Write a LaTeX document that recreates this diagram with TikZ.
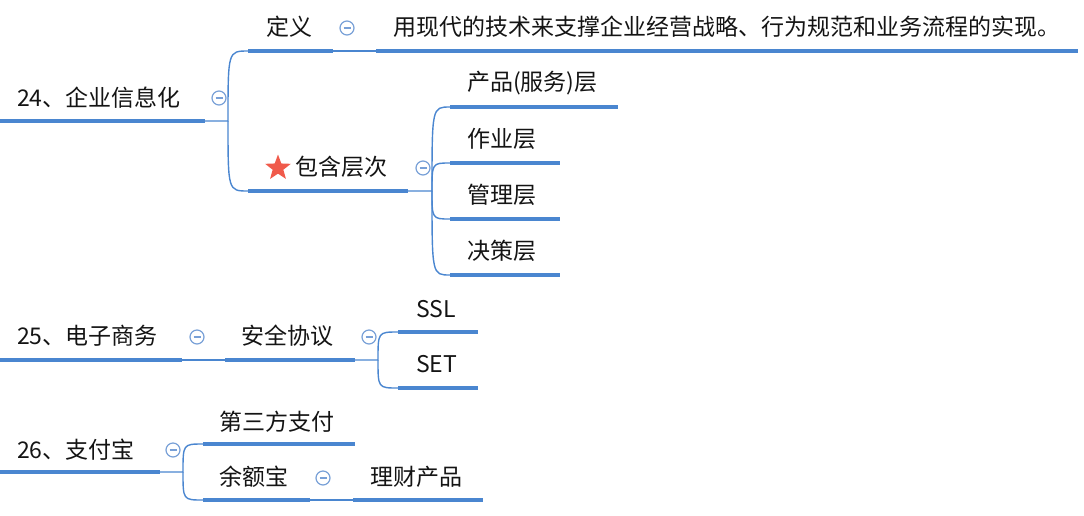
\documentclass[tikz,border=0pt]{standalone}
\usepackage{fontspec}
\setmainfont{Noto Sans CJK SC}
\usetikzlibrary{shapes.geometric,calc}
\definecolor{lineblue}{RGB}{74,134,208}
\definecolor{btnblue}{RGB}{120,160,215}
\definecolor{txt}{RGB}{20,20,20}
\definecolor{starred}{RGB}{240,90,75}
\tikzset{
  topic/.style={anchor=west,inner sep=0pt,text=txt,font=\fontsize{23}{27}\selectfont},
  uline/.style={draw=lineblue,line width=3.2pt},
  conn/.style={draw=lineblue,line width=1.4pt},
  btn/.style={circle,draw=btnblue,line width=1.2pt,minimum size=14pt,inner sep=0pt,fill=white,
    path picture={\draw[btnblue,line width=1.3pt]([xshift=-3.5pt]path picture bounding box.center)--([xshift=3.5pt]path picture bounding box.center);}},
  starmark/.style={star,star points=5,star point ratio=2.4,fill=starred,minimum size=27pt,inner sep=0pt}
}
\begin{document}
\begin{tikzpicture}[x=1pt,y=-1pt]
\useasboundingbox (0,0) rectangle (1084,515);
% ---------- 24 ----------
\node[topic] (t24) at (17,98) {24、企业信息化};
\coordinate (u24a) at (0,121); \coordinate (u24b) at (205,121);
\coordinate (j24) at (228,121);
\node[topic] (tdef) at (266,27) {定义};
\coordinate (udefa) at (248,51); \coordinate (udefb) at (333,51);
\node[topic] (tdt) at (393,27) {用现代的技术来支撑企业经营战略、行为规范和业务流程的实现。};
\coordinate (udta) at (376,51); \coordinate (udtb) at (1078,51);
\node[starmark] (star) at (278,168) {};
\node[topic] (tbh) at (295,167) {包含层次};
\coordinate (ubha) at (248,191); \coordinate (ubhb) at (408,191);
\coordinate (jbh) at (432,191);
\node[topic] (tp1) at (467,83) {产品(服务)层};
\coordinate (up1a) at (450,107); \coordinate (up1b) at (618,107);
\node[topic] (tp2) at (467,139) {作业层};
\coordinate (up2a) at (450,163); \coordinate (up2b) at (560,163);
\node[topic] (tp3) at (467,195) {管理层};
\coordinate (up3a) at (450,219); \coordinate (up3b) at (560,219);
\node[topic] (tp4) at (467,251) {决策层};
\coordinate (up4a) at (450,275); \coordinate (up4b) at (560,275);
% ---------- 25 ----------
\node[topic] (t25) at (17,336) {25、电子商务};
\coordinate (u25a) at (0,360); \coordinate (u25b) at (182,360);
\node[topic] (taq) at (241,336) {安全协议};
\coordinate (uaqa) at (225,360); \coordinate (uaqb) at (355,360);
\coordinate (jaq) at (378,360);
\node[topic] (tssl) at (416,309) {SSL};
\coordinate (ussla) at (398,332); \coordinate (usslb) at (478,332);
\node[topic] (tset) at (416,364) {SET};
\coordinate (useta) at (398,388); \coordinate (usetb) at (478,388);
% ---------- 26 ----------
\node[topic] (t26) at (17,450) {26、支付宝};
\coordinate (u26a) at (0,472); \coordinate (u26b) at (160,472);
\coordinate (j26) at (183,472);
\node[topic] (t3f) at (219,422) {第三方支付};
\coordinate (u3fa) at (203,444); \coordinate (u3fb) at (355,444);
\node[topic] (tye) at (219,477) {余额宝};
\coordinate (uyea) at (203,500); \coordinate (uyeb) at (310,500);
\node[topic] (tlc) at (370,477) {理财产品};
\coordinate (ulca) at (353,500); \coordinate (ulcb) at (483,500);
% ---------- connectors ----------
\draw[conn] (u24b) -- (j24) .. controls (j24 |- udefa) .. (udefa);
\draw[conn] (j24) .. controls (j24 |- ubha) .. (ubha);
\draw[conn] (udefb) -- (udta);
\draw[conn] (ubhb) -- (jbh) .. controls (jbh |- up1a) .. (up1a);
\draw[conn] (jbh) .. controls (jbh |- up2a) .. (up2a);
\draw[conn] (jbh) .. controls (jbh |- up3a) .. (up3a);
\draw[conn] (jbh) .. controls (jbh |- up4a) .. (up4a);
\draw[conn] (u25b) -- (uaqa);
\draw[conn] (uaqb) -- (jaq) .. controls (jaq |- ussla) .. (ussla);
\draw[conn] (jaq) .. controls (jaq |- useta) .. (useta);
\draw[conn] (u26b) -- (j26) .. controls (j26 |- u3fa) .. (u3fa);
\draw[conn] (j26) .. controls (j26 |- uyea) .. (uyea);
\draw[conn] (uyeb) -- (ulca);
% ---------- underlines ----------
\foreach \a/\b in {u24a/u24b,udefa/udefb,udta/udtb,ubha/ubhb,up1a/up1b,up2a/up2b,up3a/up3b,up4a/up4b,
  u25a/u25b,uaqa/uaqb,ussla/usslb,useta/usetb,u26a/u26b,u3fa/u3fb,uyea/uyeb,ulca/ulcb}
  \draw[uline] (\a) -- (\b);
% ---------- buttons ----------
\node[btn] (c24) at (219,98) {};
\node[btn] (cdef) at (347,28) {};
\node[btn] (cbh) at (423,168) {};
\node[btn] (c25) at (197,337) {};
\node[btn] (caq) at (369,337) {};
\node[btn] (c26) at (173,450) {};
\node[btn] (cye) at (323,478) {};
\end{tikzpicture}
\end{document}
